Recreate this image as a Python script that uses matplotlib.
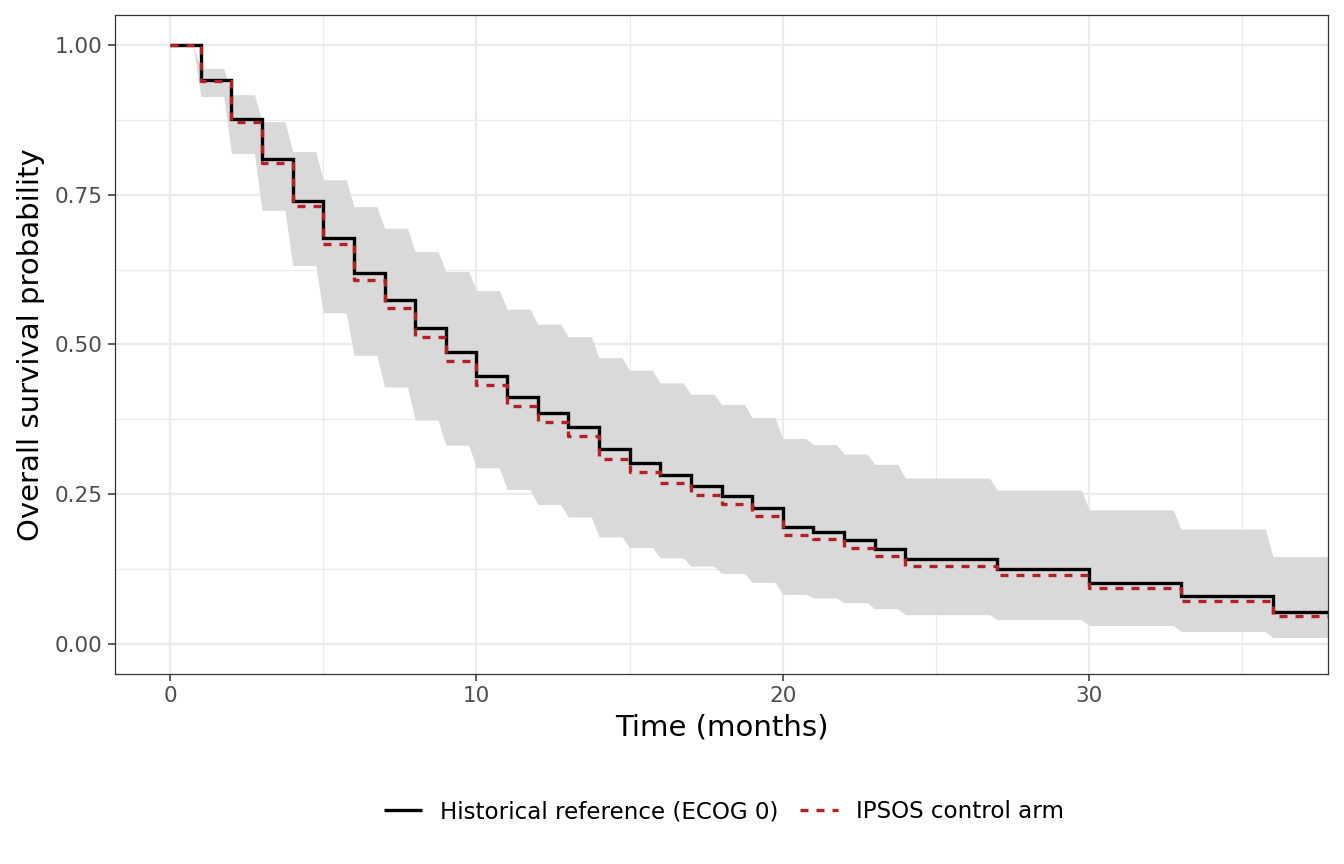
import matplotlib
matplotlib.use("Agg")
import matplotlib.pyplot as plt
from matplotlib.ticker import MultipleLocator

# step times (months) and survival estimates
times = [0, 1, 2, 3, 4, 5, 6, 7, 8, 9, 10, 11, 12, 13, 14, 15, 16, 17, 18,
         19, 20, 21, 22, 23, 24, 27, 30, 33, 36]
t_end = 38

hist = [1.0, 0.942, 0.876, 0.809, 0.740, 0.678, 0.620, 0.574, 0.527, 0.487,
        0.448, 0.413, 0.385, 0.362, 0.325, 0.303, 0.282, 0.263, 0.247, 0.227,
        0.195, 0.187, 0.173, 0.158, 0.142, 0.126, 0.102, 0.081, 0.053]
ipsos = [1.0, 0.940, 0.872, 0.803, 0.732, 0.668, 0.608, 0.561, 0.512, 0.472,
         0.433, 0.398, 0.371, 0.347, 0.309, 0.287, 0.268, 0.248, 0.233, 0.213,
         0.182, 0.175, 0.161, 0.147, 0.131, 0.115, 0.093, 0.072, 0.047]
lower = [1.0, 0.914, 0.819, 0.724, 0.632, 0.553, 0.482, 0.429, 0.374, 0.332,
         0.294, 0.258, 0.233, 0.212, 0.179, 0.161, 0.144, 0.130, 0.118, 0.103,
         0.083, 0.077, 0.069, 0.059, 0.049, 0.041, 0.031, 0.021, 0.011]
upper = [1.0, 0.961, 0.917, 0.872, 0.822, 0.775, 0.730, 0.694, 0.655, 0.622,
         0.590, 0.559, 0.534, 0.513, 0.478, 0.457, 0.436, 0.417, 0.400, 0.378,
         0.343, 0.333, 0.317, 0.300, 0.277, 0.257, 0.224, 0.192, 0.146]


def step_xy(t, v, end):
    return list(t) + [end], list(v) + [v[-1]]


def ribbon_xy(t, lo, hi, end, ramp=0.25):
    # band drawn the way the source does it: flat, then a short ramp into the next step
    xs, los, his = [], [], []
    bounds = list(t[1:]) + [end]
    for i in range(len(t)):
        stop = bounds[i] - ramp if i < len(t) - 1 else bounds[i]
        xs += [t[i], stop]
        los += [lo[i], lo[i]]
        his += [hi[i], hi[i]]
    return xs, los, his


fig = plt.figure(figsize=(13.44, 8.64), dpi=100)
ax = fig.add_axes([115/1344, 1-674/864, (1328-115)/1344, (674-15)/864])

rx, rlo, rhi = ribbon_xy(times, lower, upper, t_end)
ax.fill_between(rx, rlo, rhi, color="#d9d9d9", lw=0, zorder=2)

hx, hy = step_xy(times, hist, t_end)
ax.step(hx, hy, where="post", color="black", lw=2.4, solid_capstyle="butt",
        solid_joinstyle="miter", zorder=3, label="Historical reference (ECOG 0)")
ix, iy = step_xy(times, ipsos, t_end)
ax.step(ix, iy, where="post", color="#b22222", lw=2.4, dashes=(2.4, 2.4),
        dash_capstyle="butt", zorder=4, label="IPSOS control arm")

ax.set_xlim(-1.8, 37.8)
ax.set_ylim(-0.05, 1.05)
ax.xaxis.set_major_locator(MultipleLocator(10))
ax.xaxis.set_minor_locator(MultipleLocator(5))
ax.yaxis.set_major_locator(MultipleLocator(0.25))
ax.yaxis.set_minor_locator(MultipleLocator(0.125))
ax.yaxis.set_major_formatter(plt.FuncFormatter(lambda v, p: f"{v:.2f}"))

ax.grid(which="major", color="#ebebeb", lw=1.6, zorder=0)
ax.grid(which="minor", color="#ebebeb", lw=0.9, zorder=0)
ax.set_axisbelow(True)
ax.tick_params(which="major", length=4.8, width=1.1, color="#333333",
               labelsize=15.5, labelcolor="#4d4d4d", pad=4)
ax.tick_params(which="minor", length=0)
for s in ax.spines.values():
    s.set_color("#333333")
    s.set_linewidth(0.9)

ax.set_xlabel("Time (months)", fontsize=21, labelpad=5)
ax.set_ylabel("Overall survival probability", fontsize=21, labelpad=7)

h, l = ax.get_legend_handles_labels()
fig.legend(h, l, loc="center", bbox_to_anchor=(724/1344, 1-812/864), ncol=2,
           frameon=False, fontsize=16.6, handlelength=1.65, handletextpad=0.8,
           columnspacing=0.9)

fig.savefig("out.png", dpi=100)
